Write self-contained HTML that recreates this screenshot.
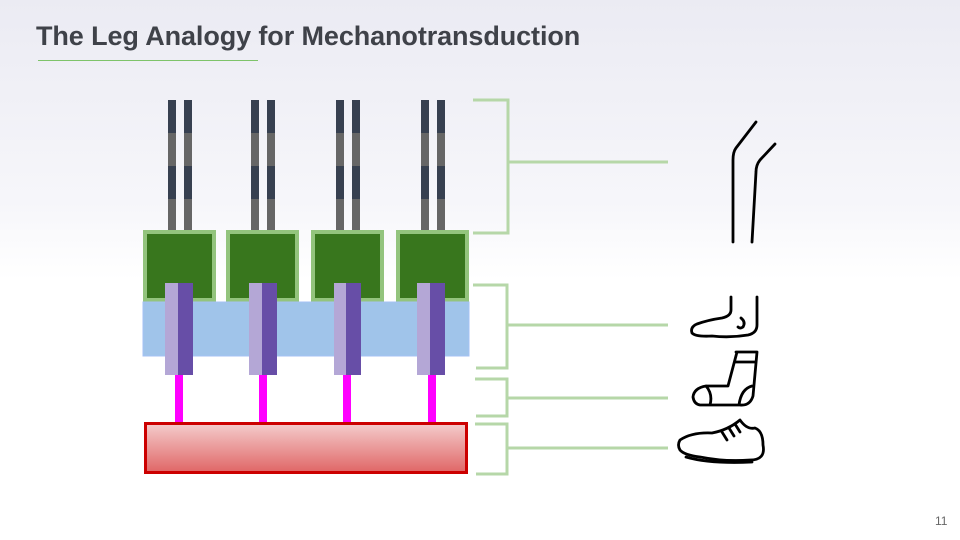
<!DOCTYPE html>
<html><head><meta charset="utf-8"><style>
html,body{margin:0;padding:0}
body{width:960px;height:540px;overflow:hidden;background:linear-gradient(#ebebf3 0px,#f6f6fa 200px,#fff 280px,#fff 540px);font-family:"Liberation Sans",sans-serif;position:relative}
.t{position:absolute;left:36px;top:21px;font-size:27px;font-weight:bold;color:#3f4249;letter-spacing:-0.1px}
.u{position:absolute;left:38px;top:60px;width:220px;height:1px;background:#7ec36a}
.n{position:absolute;left:935px;top:514px;font-size:12px;color:#666}
</style></head><body>
<div class="t">The Leg Analogy for Mechanotransduction</div>
<div class="u"></div>
<div class="n">11</div>
<svg width="960" height="540" style="position:absolute;left:0;top:0">
<defs><linearGradient id="r" x1="0" y1="0" x2="0" y2="1"><stop offset="0" stop-color="#f4cccc"/><stop offset="1" stop-color="#e06666"/></linearGradient>
<pattern id="st" x="0" y="100" width="8" height="66" patternUnits="userSpaceOnUse"><rect width="8" height="33" fill="#374050"/><rect y="33" width="8" height="33" fill="#666"/></pattern></defs>
<g fill="url(#st)">
<rect x="168" y="100" width="8" height="132"/><rect x="184" y="100" width="8" height="132"/>
<rect x="251" y="100" width="8" height="132"/><rect x="267" y="100" width="8" height="132"/>
<rect x="336" y="100" width="8" height="132"/><rect x="352" y="100" width="8" height="132"/>
<rect x="421" y="100" width="8" height="132"/><rect x="437" y="100" width="8" height="132"/>
</g>
<g fill="#38761d" stroke="#93c47d" stroke-width="4">
<rect x="145" y="232" width="69" height="68"/><rect x="228" y="232" width="69" height="68"/>
<rect x="313" y="232" width="69" height="68"/><rect x="398" y="232" width="69" height="68"/>
</g>
<rect x="143" y="302" width="326" height="54" fill="#a0c4ea" stroke="#a4c2f4" stroke-width="1"/>
<g fill="#ff00ff"><rect x="175" y="375" width="8" height="48"/><rect x="259" y="375" width="8" height="48"/><rect x="343" y="375" width="8" height="48"/><rect x="428" y="375" width="8" height="48"/></g>
<g>
<rect x="165" y="283" width="13" height="92" fill="#b4a7d6"/><rect x="178" y="283" width="15" height="92" fill="#674ea7"/>
<rect x="249" y="283" width="13" height="92" fill="#b4a7d6"/><rect x="262" y="283" width="15" height="92" fill="#674ea7"/>
<rect x="334" y="283" width="12" height="92" fill="#b4a7d6"/><rect x="346" y="283" width="15" height="92" fill="#674ea7"/>
<rect x="417" y="283" width="13" height="92" fill="#b4a7d6"/><rect x="430" y="283" width="15" height="92" fill="#674ea7"/>
</g>
<rect x="145.5" y="423.5" width="321" height="49" fill="url(#r)" stroke="#cc0000" stroke-width="3"/>
<g fill="none" stroke="#b6d7a8" stroke-width="3">
<path d="M473 100H508V233H473M508 162H668"/>
<path d="M473 285H507V368H476M507 325H668"/>
<path d="M475 379H507V416H476M507 398H668"/>
<path d="M475 424H507V474H476M507 448H668"/>
</g>
<g fill="none" stroke="#000" stroke-width="2.8" stroke-linecap="round" stroke-linejoin="round">
<path d="M756 122L736 148Q733 152 733 160L733 242"/>
<path d="M775 144L760 160Q756 165 756 172L752 242"/>
<path d="M731 297V310Q731 316 722 318Q708 320 697 324Q690 327 692 333Q696 337 712 336Q730 338 748 335Q757 333 757 325V297"/>
<path d="M741 318Q746 322 743 327Q740 329 738 327"/>
<path d="M736 352H757L753 396Q750 406 740 405H700Q694 404 693 397Q694 388 706 386H728L737 352M735 362H755M706 386Q713 394 710 405M752 386Q741 389 739 405"/>
<path d="M680 440Q692 432 712 433Q728 430 740 420Q747 430 755 428Q763 431 763 445Q766 460 750 460Q725 462 700 457Q684 455 680 450Q677 445 680 440Z"/>
<path d="M686 457Q710 464 752 462"/>
<path d="M722 432L727 440M729 428L734 436M735 424L740 432"/>
</g>
</svg>
</body></html>
